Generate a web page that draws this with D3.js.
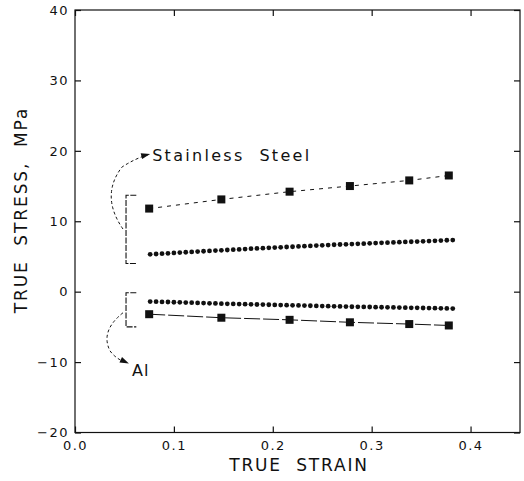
<!DOCTYPE html>
<html><head><meta charset="utf-8">
<script src="https://cdn.jsdelivr.net/npm/d3@7"></script>
<style>body{margin:0;background:#fff} text{white-space:pre}</style>
</head><body>
<svg id="c" width="524" height="481"></svg>
<script>
const xTicks = [0.0, 0.1, 0.2, 0.3, 0.4];
const yTicks = [-20, -10, 0, 10, 20, 30, 40];
const xTickLabels = ["0.0", "0.1", "0.2", "0.3", "0.4"];
const yTickLabels = ["\u221220", "\u221210", "0", "10", "20", "30", "40"];

const squareStrain = [0.075, 0.148, 0.217, 0.278, 0.338, 0.378];
const steelSquares = [11.8, 13.1, 14.2, 15.0, 15.8, 16.5];
const alSquares = [-3.2, -3.7, -4.0, -4.35, -4.6, -4.8];

const dotStrain = [0.076,0.082,0.088,0.094,0.100,0.106,0.112,0.118,0.124,0.130,0.136,0.142,0.148,0.154,0.160,0.166,0.172,0.178,0.184,0.190,0.196,0.202,0.208,0.214,0.220,0.226,0.232,0.238,0.244,0.250,0.256,0.262,0.268,0.274,0.280,0.286,0.292,0.298,0.304,0.310,0.316,0.322,0.328,0.334,0.340,0.346,0.352,0.358,0.364,0.370,0.376,0.382];
const steelDots = [5.30,5.35,5.40,5.45,5.50,5.55,5.60,5.65,5.70,5.74,5.78,5.83,5.87,5.92,5.96,6.00,6.05,6.10,6.14,6.18,6.22,6.26,6.30,6.34,6.38,6.42,6.46,6.50,6.54,6.58,6.62,6.66,6.70,6.73,6.76,6.79,6.82,6.86,6.90,6.93,6.96,7.00,7.03,7.06,7.09,7.12,7.15,7.18,7.22,7.26,7.30,7.33];
const alDots = [-1.40,-1.42,-1.45,-1.47,-1.50,-1.52,-1.55,-1.57,-1.60,-1.62,-1.65,-1.67,-1.70,-1.72,-1.74,-1.76,-1.78,-1.80,-1.82,-1.84,-1.86,-1.88,-1.90,-1.92,-1.94,-1.96,-1.98,-2.00,-2.02,-2.04,-2.06,-2.08,-2.10,-2.12,-2.14,-2.15,-2.17,-2.18,-2.20,-2.21,-2.23,-2.24,-2.26,-2.27,-2.29,-2.30,-2.32,-2.33,-2.35,-2.36,-2.38,-2.40];

const labels = {steel: "Stainless  Steel", al: "Al", x: "TRUE  STRAIN", y: "TRUE  STRESS,  MPa"};

const svg = d3.select("#c");
const L = 75, R = 520, T = 10, B = 432.5;
const x = d3.scaleLinear().domain([0, 0.45]).range([L, R]);
const y = d3.scaleLinear().domain([-20, 40]).range([B, T]);
const ink = "#111";
const font = "'DejaVu Sans', sans-serif";

// frame
svg.append("rect").attr("x", L).attr("y", T).attr("width", R - L).attr("height", B - T)
  .attr("fill", "none").attr("stroke", ink).attr("stroke-width", 1.2);

// axes
const fmtX = d => xTickLabels[xTicks.indexOf(d)];
const fmtY = d => yTickLabels[yTicks.indexOf(d)];
const ax = [
  svg.append("g").attr("transform", `translate(0,${B})`).call(d3.axisBottom(x).tickValues(xTicks).tickFormat(fmtX).tickSizeInner(-6).tickSizeOuter(0).tickPadding(8)),
  svg.append("g").attr("transform", `translate(0,${T})`).call(d3.axisTop(x).tickValues(xTicks).tickFormat("").tickSizeInner(-6).tickSizeOuter(0)),
  svg.append("g").attr("transform", `translate(${L},0)`).call(d3.axisLeft(y).tickValues(yTicks).tickFormat(fmtY).tickSizeInner(-6).tickSizeOuter(0).tickPadding(6)),
  svg.append("g").attr("transform", `translate(${R},0)`).call(d3.axisRight(y).tickValues(yTicks).tickFormat("").tickSizeInner(-6).tickSizeOuter(0))
];
ax.forEach(g => {
  g.select(".domain").remove();
  g.selectAll("line").attr("stroke", ink).attr("stroke-width", 1.2);
  g.selectAll("text").attr("font-family", font).attr("font-size", 13).attr("fill", ink).attr("letter-spacing", 1.5);
});

// lines
const line = d3.line().x(d => x(d[0])).y(d => y(d[1]));
const steelSq = squareStrain.map((s, i) => [s, steelSquares[i]]);
const alSq = squareStrain.map((s, i) => [s, alSquares[i]]);
svg.append("path").attr("d", line(steelSq)).attr("fill", "none").attr("stroke", ink).attr("stroke-width", 1).attr("stroke-dasharray", "4,5");
svg.append("path").attr("d", line(alSq)).attr("fill", "none").attr("stroke", ink).attr("stroke-width", 1).attr("stroke-dasharray", "16,3");

// squares
[steelSq, alSq].forEach(arr => {
  svg.append("g").selectAll("rect").data(arr).join("rect")
    .attr("x", d => x(d[0]) - 4).attr("y", d => y(d[1]) - 4).attr("width", 8).attr("height", 8).attr("fill", ink);
});

// dots
[steelDots, alDots].forEach(arr => {
  svg.append("g").selectAll("circle").data(dotStrain.map((s, i) => [s, arr[i]])).join("circle")
    .attr("cx", d => x(d[0])).attr("cy", d => y(d[1])).attr("r", 2.4).attr("fill", ink);
});

// brackets
function bracket(top, bot) {
  const x0 = x(0.0516), x1 = x(0.062);
  svg.append("path").attr("d", `M${x1},${y(top)}H${x0}V${y(bot)}H${x1}`)
    .attr("fill", "none").attr("stroke", ink).attr("stroke-width", 1.1).attr("stroke-dasharray", "6,1.5");
}
bracket(13.7, 4.0);
bracket(-0.15, -5.0);

// arrows
const P = (a, b) => `${x(a)},${y(b)}`;
svg.append("path").attr("d", `M${P(0.0485, 8.9)} Q${P(0.0253, 13.6)} ${P(0.0475, 17.7)} Q${P(0.0607, 18.9)} ${P(0.0738, 19.45)}`)
  .attr("fill", "none").attr("stroke", ink).attr("stroke-width", 1).attr("stroke-dasharray", "3,2.5");
svg.append("path").attr("d", `M${P(0.0485, -3.0)} Q${P(0.0253, -5.6)} ${P(0.0354, -8.4)} Q${P(0.0415, -9.6)} ${P(0.0526, -10.1)}`)
  .attr("fill", "none").attr("stroke", ink).attr("stroke-width", 1).attr("stroke-dasharray", "3,2.5");
function head(xa, ya, ang) {
  const g = svg.append("g").attr("transform", `translate(${x(xa)},${y(ya)}) rotate(${ang})`);
  g.append("path").attr("d", "M0,0 L-9,-3 L-9,3 Z").attr("fill", ink);
}
head(0.0760, 19.55, -14);
head(0.0545, -10.2, 25);

// annotation labels
svg.append("text").attr("x", x(0.078)).attr("y", y(18.6)).text(labels.steel)
  .attr("font-family", font).attr("font-size", 16).attr("fill", ink).attr("letter-spacing", 2.3);
svg.append("text").attr("x", x(0.0576)).attr("y", y(-12.0)).text(labels.al)
  .attr("font-family", font).attr("font-size", 16).attr("fill", ink).attr("letter-spacing", 1);

// axis titles
svg.append("text").attr("x", 299).attr("y", 471).attr("text-anchor", "middle").text(labels.x)
  .attr("font-family", font).attr("font-size", 17).attr("fill", ink).attr("letter-spacing", 1.8);
svg.append("text").attr("transform", "translate(27,210) rotate(-90)").attr("text-anchor", "middle").text(labels.y)
  .attr("font-family", font).attr("font-size", 17).attr("fill", ink).attr("letter-spacing", 1.9);
</script>
</body></html>
